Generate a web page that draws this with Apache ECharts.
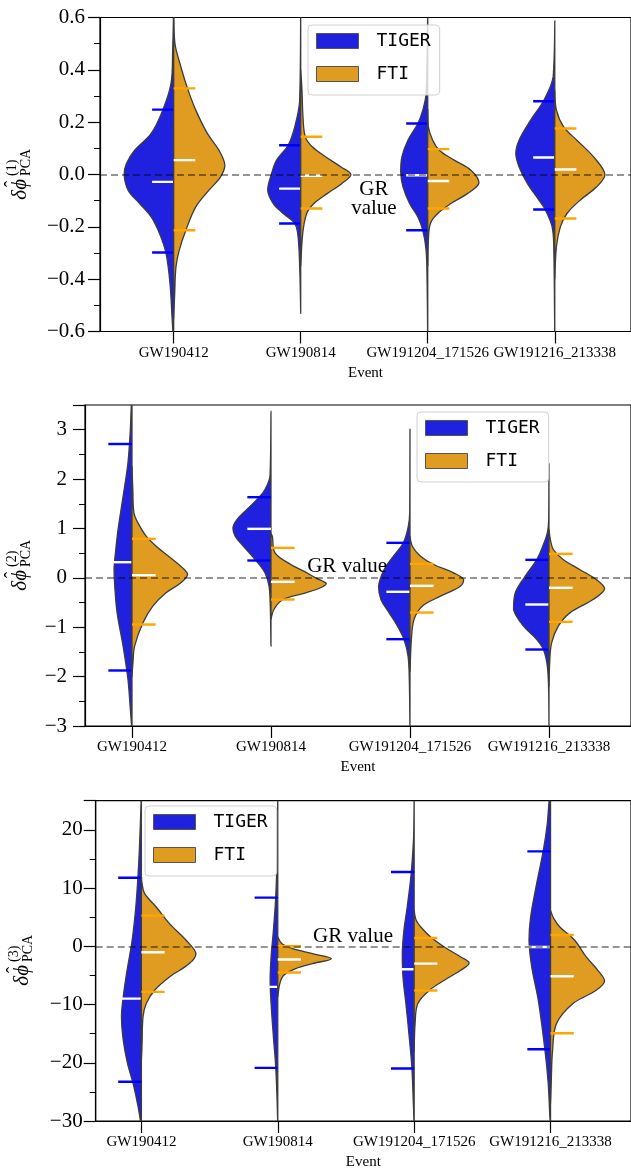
<!DOCTYPE html>
<html>
<head>
<meta charset="utf-8">
<title>PCA deviations - split violins</title>
<script src="https://cdn.jsdelivr.net/npm/echarts@6/dist/echarts.min.js"></script>
<style>
  html, body { margin: 0; padding: 0; background: #fff; }
  #main { width: 631px; height: 1172px; }
</style>
</head>
<body>
<div id="main"></div>
<script>
// events on the x axis
var events = ['GW190412', 'GW190814', 'GW191204_171526', 'GW191216_213338'];
var methods = ['TIGER', 'FTI'];

// y ranges [min, max, interval] per panel
var pca1Y = [-0.6, 0.6, 0.2];
var pca2Y = [-3, 3.5, 1];
var pca3Y = [-30, 25, 10];

// violin half profiles: [value, half width (fraction of event spacing)], top to bottom
var pca1Tiger = [
  [[0.65,0],[0.475,0.008],[0.348,0.021],[0.246,0.086],[0.157,0.177],[0.093,0.307],[0.042,0.372],[0.0,0.39],[-0.06,0.359],[-0.111,0.268],[-0.162,0.177],[-0.225,0.112],[-0.302,0.06],[-0.417,0.029],[-0.544,0.013],[-0.65,0]],
  [[0.65,0],[0.284,0.008],[0.182,0.047],[0.112,0.099],[0.055,0.19],[0.004,0.229],[-0.06,0.26],[-0.111,0.216],[-0.149,0.138],[-0.187,0.047],[-0.238,0.021],[-0.353,0.008],[-0.531,0]],
  [[0.65,0],[0.31,0.013],[0.246,0.039],[0.195,0.078],[0.131,0.156],[0.068,0.203],[0.01,0.213],[-0.047,0.195],[-0.111,0.143],[-0.162,0.078],[-0.213,0.039],[-0.289,0.013],[-0.417,0.005],[-0.65,0]],
  [[0.587,0],[0.373,0.013],[0.284,0.086],[0.208,0.19],[0.131,0.281],[0.08,0.307],[0.029,0.281],[-0.034,0.216],[-0.098,0.125],[-0.136,0.073],[-0.2,0.021],[-0.276,0.008],[-0.65,0]]
];
var pca1Fti = [
  [[0.62,0],[0.5,0.01],[0.411,0.057],[0.329,0.109],[0.246,0.174],[0.157,0.265],[0.093,0.356],[0.036,0.403],[-0.009,0.369],[-0.06,0.278],[-0.124,0.174],[-0.213,0.096],[-0.289,0.044],[-0.353,0.018],[-0.455,0.008],[-0.55,0]],
  [[0.4,0],[0.322,0.01],[0.22,0.018],[0.144,0.036],[0.106,0.091],[0.068,0.195],[0.029,0.317],[0.0,0.395],[-0.034,0.325],[-0.073,0.208],[-0.111,0.104],[-0.149,0.047],[-0.225,0.016],[-0.35,0]],
  [[0.25,0],[0.182,0.005],[0.131,0.039],[0.093,0.091],[0.055,0.208],[0.017,0.338],[-0.032,0.403],[-0.073,0.312],[-0.111,0.182],[-0.149,0.078],[-0.187,0.021],[-0.251,0.005],[-0.35,0]],
  [[0.32,0],[0.246,0.013],[0.182,0.07],[0.131,0.174],[0.068,0.304],[0.0,0.395],[-0.047,0.33],[-0.098,0.2],[-0.149,0.096],[-0.2,0.044],[-0.276,0.013],[-0.4,0]]
];
var pca2Tiger = [
  [[3.6,0],[3.475,0.005],[3.0,0.012],[2.33,0.029],[1.65,0.064],[0.98,0.1],[0.506,0.119],[0.17,0.129],[-0.169,0.124],[-0.709,0.107],[-1.383,0.064],[-2.058,0.029],[-2.733,0.01],[-3.1,0]],
  [[3.37,0],[2.06,0.007],[1.79,0.043],[1.62,0.09],[1.383,0.174],[1.18,0.245],[1.01,0.274],[0.84,0.257],[0.64,0.198],[0.371,0.114],[0.101,0.043],[-0.169,0.014],[-0.574,0.005],[-1.38,0]],
  [[3.017,0],[1.316,0.002],[1.046,0.012],[0.709,0.048],[0.439,0.119],[0.169,0.186],[-0.169,0.226],[-0.439,0.209],[-0.709,0.15],[-0.978,0.09],[-1.248,0.043],[-1.586,0.014],[-2.06,0.005],[-3.1,0]],
  [[2.308,0],[1.18,0.002],[0.911,0.012],[0.641,0.045],[0.371,0.088],[0.034,0.171],[-0.304,0.243],[-0.641,0.255],[-0.978,0.183],[-1.248,0.088],[-1.451,0.04],[-1.788,0.012],[-2.33,0.002],[-3.1,0]]
];
var pca2Fti = [
  [[2.26,0],[1.8,0.006],[1.316,0.014],[1.113,0.043],[0.844,0.102],[0.641,0.174],[0.371,0.293],[0.169,0.376],[0.067,0.4],[-0.101,0.352],[-0.304,0.245],[-0.574,0.15],[-0.911,0.079],[-1.383,0.019],[-1.72,0.007],[-2.0,0]],
  [[0.9,0],[0.84,0.01],[0.506,0.029],[0.27,0.143],[0.135,0.236],[0.0,0.321],[-0.115,0.398],[-0.2,0.357],[-0.304,0.25],[-0.439,0.086],[-0.641,0.021],[-0.84,0]],
  [[0.844,0],[0.641,0.017],[0.439,0.076],[0.27,0.171],[0.101,0.314],[-0.034,0.386],[-0.169,0.362],[-0.371,0.219],[-0.574,0.088],[-0.844,0.029],[-1.248,0.01],[-1.9,0]],
  [[0.978,0],[0.776,0.01],[0.574,0.031],[0.371,0.102],[0.169,0.221],[-0.034,0.34],[-0.223,0.4],[-0.439,0.317],[-0.709,0.15],[-0.978,0.067],[-1.316,0.019],[-1.72,0.005],[-2.2,0]]
];
var pca3Tiger = [
  [[26,0],[25.04,0.002],[18.18,0.012],[12.46,0.024],[6.75,0.041],[1.03,0.068],[-4.69,0.109],[-8.69,0.133],[-12.12,0.146],[-16.12,0.133],[-20.12,0.102],[-23.55,0.061],[-27.56,0.024],[-31,0]],
  [[26,0],[21,0.002],[15.32,0.005],[8.46,0.015],[2.74,0.032],[-1.83,0.049],[-5.83,0.056],[-9.83,0.049],[-15.55,0.032],[-20.7,0.015],[-26.4,0.005],[-31,0]],
  [[26,0],[21.04,0.002],[18.18,0.005],[12.46,0.022],[6.75,0.051],[2.74,0.075],[-1.26,0.087],[-5.26,0.082],[-10.4,0.058],[-16.12,0.034],[-20.7,0.017],[-27.56,0.005],[-31,0]],
  [[26,0],[25.04,0.01],[21.04,0.024],[16.46,0.053],[10.75,0.102],[5.03,0.146],[1.03,0.158],[-3.54,0.138],[-9.26,0.09],[-17.84,0.041],[-23.55,0.017],[-29.27,0.005],[-31,0]]
];
var pca3Fti = [
  [[12,0],[10.75,0.005],[9.03,0.024],[6.75,0.109],[3.89,0.206],[1.03,0.328],[-1.26,0.4],[-2.97,0.352],[-5.26,0.206],[-7.55,0.097],[-9.83,0.036],[-12.12,0.012],[-16.69,0.005],[-20,0]],
  [[1.6,0],[0.46,0.029],[-0.4,0.109],[-1.26,0.255],[-2.12,0.393],[-2.97,0.255],[-3.83,0.131],[-4.97,0.044],[-6.4,0.015],[-8.69,0]],
  [[6.17,0],[4.46,0.015],[3.32,0.049],[1.6,0.121],[-0.11,0.221],[-1.83,0.342],[-2.86,0.403],[-4.12,0.342],[-5.83,0.221],[-7.55,0.112],[-9.83,0.027],[-13.26,0.007],[-18,0]],
  [[6.17,0],[4.75,0.024],[3.32,0.068],[1.03,0.177],[-1.83,0.262],[-4.12,0.347],[-5.95,0.396],[-7.55,0.335],[-9.83,0.165],[-13.26,0.044],[-17.84,0.015],[-23.55,0.005],[-27,0]]
];

// [lower, median, upper] per event
var pca1TigerStats = [[-0.298,-0.028,0.248],[-0.187,-0.054,0.112],[-0.213,-0.003,0.195],[-0.134,0.065,0.28]];
var pca1FtiStats   = [[-0.213,0.055,0.329],[-0.13,-0.005,0.144],[-0.13,-0.025,0.097],[-0.168,0.019,0.176]];
var pca2TigerStats = [[-1.876,0.317,2.71],[0.351,0.992,1.633],[-1.242,-0.283,0.709],[-1.451,-0.54,0.364]];
var pca2FtiStats   = [[-0.945,0.054,0.79],[-0.439,-0.081,0.607],[-0.702,-0.162,0.283],[-0.891,-0.202,0.486]];
var pca3TigerStats = [[-23.27,-8.98,11.78],[-20.87,-6.97,8.35],[-20.98,-3.94,12.75],[-17.67,-0.11,16.29]];
var pca3FtiStats   = [[-7.83,-1.03,5.26],[-4.5,-2.28,0.0],[-7.6,-2.97,1.43],[-14.92,-5.15,1.94]];

// "GR value" annotation: [x, y] in data units, and its text
var grPos = [[1.576, -0.094], [1.548, 0.235], [1.552, 1.6]];
var grText = ['GR\nvalue', 'GR value', 'GR value'];

var TIGER_FILL = '#2020DF', FTI_FILL = '#DF9C20';
var SERIF = '"Liberation Serif", "Times New Roman", serif';

var panels = [
  { tiger: pca1Tiger, fti: pca1Fti, ts: pca1TigerStats, fs: pca1FtiStats, y: pca1Y, dec: 1, showMax: true,
    grid: { left: 100, top: 17.5, width: 535, height: 314 }, xr: [-0.58, 3.6], labMargin: 15,
    legend: { left: 308, top: 25 }, label: [20, 176] },
  { tiger: pca2Tiger, fti: pca2Fti, ts: pca2TigerStats, fs: pca2FtiStats, y: pca2Y, dec: 0, showMax: false,
    grid: { left: 85, top: 405, width: 550, height: 321 }, xr: [-0.338, 3.59], labMargin: 18,
    legend: { left: 417, top: 412 }, label: [20, 567] },
  { tiger: pca3Tiger, fti: pca3Fti, ts: pca3TigerStats, fs: pca3FtiStats, y: pca3Y, dec: 0, showMax: false,
    grid: { left: 95.7, top: 800.7, width: 539.3, height: 320.3 }, xr: [-0.335, 3.59], labMargin: 13,
    legend: { left: 145, top: 806 }, label: [22, 962] }
];

function violinRender(profiles, stats, side, fill, lineColor) {
  return function (params, api) {
    var i = api.value(0);
    var pts = profiles[i].map(function (p) { return api.coord([i + side * p[1], p[0]]); });
    var xs = pts.map(function (p) { return p[0]; });
    var ys = pts.map(function (p) { return p[1]; });
    var box = [[Math.min.apply(null, xs), Math.min.apply(null, ys)], [Math.max.apply(null, xs), Math.max.apply(null, ys)]];
    var kids = [{
      type: 'polygon',
      shape: { points: pts, smooth: 0.35, smoothConstraint: box },
      style: { fill: fill, stroke: '#3c3c3c', lineWidth: 1.3 }
    }];
    var s = stats[i];
    [[s[0], lineColor], [s[1], '#ffffff'], [s[2], lineColor]].forEach(function (q) {
      var a = api.coord([i, q[0]]);
      var b = api.coord([i + side * 0.17, q[0]]);
      kids.push({ type: 'line', shape: { x1: a[0], y1: a[1], x2: b[0], y2: b[1] },
                  style: { stroke: q[1], lineWidth: 2.4 } });
    });
    return { type: 'group', children: kids };
  };
}

function fmt(dec) {
  return function (v) {
    var s = dec ? v.toFixed(dec) : String(Math.round(v));
    if (parseFloat(s) === 0) s = dec ? (0).toFixed(dec) : '0';
    return s.replace('-', '\u2212');
  };
}

var grids = [], xAxes = [], yAxes = [], series = [], legends = [], graphics = [];

panels.forEach(function (p, k) {
  grids.push(Object.assign({ show: true, borderColor: '#000', borderWidth: 1.2, backgroundColor: 'transparent' }, p.grid));
  xAxes.push({
    gridIndex: k, type: 'value', min: p.xr[0], max: p.xr[1],
    axisLine: { show: true, onZero: false, lineStyle: { color: '#000', width: 1.2 } },
    axisTick: { show: true, customValues: [0, 1, 2, 3], length: 12, lineStyle: { color: '#000', width: 1.2 } },
    axisLabel: { customValues: [0, 1, 2, 3], formatter: function (v) { return events[Math.round(v)]; },
                 fontSize: 15, fontFamily: SERIF, color: '#000', margin: 14 },
    splitLine: { show: false },
    name: 'Event', nameLocation: 'middle', nameGap: 34,
    nameTextStyle: { fontSize: 15, fontFamily: SERIF, color: '#000' }
  });
  yAxes.push({
    gridIndex: k, type: 'value', min: p.y[0], max: p.y[1], interval: p.y[2],
    axisLine: { show: true, onZero: false, lineStyle: { color: '#000', width: 1.2 } },
    axisTick: { show: true, length: 12, lineStyle: { color: '#000', width: 1.2 } },
    minorTick: { show: true, splitNumber: 2, length: 6, lineStyle: { color: '#000', width: 1 } },
    splitLine: { show: false },
    axisLabel: { formatter: fmt(p.dec), fontSize: 21, fontFamily: SERIF, color: '#000',
                 margin: p.labMargin, showMaxLabel: p.showMax }
  });
  var idx = events.map(function (e, i) { return [i]; });
  series.push({
    type: 'custom', name: 'TIGER', xAxisIndex: k, yAxisIndex: k, clip: true, z: 2,
    itemStyle: { color: TIGER_FILL }, data: idx,
    renderItem: violinRender(p.tiger, p.ts, -1, TIGER_FILL, '#0000FF')
  });
  series.push({
    type: 'custom', name: 'FTI', xAxisIndex: k, yAxisIndex: k, clip: true, z: 2,
    itemStyle: { color: FTI_FILL }, data: idx,
    renderItem: violinRender(p.fti, p.fs, 1, FTI_FILL, '#FFA500')
  });
  series.push({
    type: 'custom', xAxisIndex: k, yAxisIndex: k, z: 4, silent: true,
    data: [grPos[k]],
    renderItem: function (params, api) {
      var c = api.coord([api.value(0), api.value(1)]);
      return { type: 'text', x: c[0], y: c[1],
               style: { text: grText[k], font: '21px ' + SERIF, fill: '#000',
                        align: 'center', verticalAlign: 'middle', lineHeight: 19 } };
    },
    markLine: {
      silent: true, symbol: ['none', 'none'], label: { show: false }, z: 6,
      lineStyle: { type: [7, 4], color: 'rgba(0,0,0,0.42)', width: 1.8 },
      data: [{ yAxis: 0 }]
    }
  });
  legends.push({
    data: methods, orient: 'vertical', left: p.legend.left, top: p.legend.top,
    icon: 'rect', itemWidth: 42, itemHeight: 15, itemGap: 15,
    padding: [7, 9, 12, 8], backgroundColor: 'rgba(255,255,255,0.8)',
    borderColor: '#d0d0d0', borderWidth: 1, borderRadius: 4,
    itemStyle: { borderColor: '#555', borderWidth: 1 },
    textStyle: { fontFamily: '"DejaVu Sans Mono", monospace', fontSize: 18, color: '#000',
                 lineHeight: 15, padding: [0, 0, 0, 13] },
    selectedMode: false, z: 10
  });
  // rotated y axis title: delta phi-hat, superscript (k), subscript PCA
  graphics.push({
    type: 'group', x: p.label[0], y: p.label[1], rotation: Math.PI / 2,
    children: [
      { type: 'text', x: -3, y: 0, style: { text: '\u03B4\u03D5', font: 'italic 21px ' + SERIF,
        fill: '#000', align: 'right', verticalAlign: 'middle' } },
      { type: 'text', x: -8, y: -8, style: { text: '\u02C6', font: '19px ' + SERIF,
        fill: '#000', align: 'center', verticalAlign: 'middle' } },
      { type: 'text', x: 0, y: -8, style: { text: '(' + (k + 1) + ')', font: '14px ' + SERIF,
        fill: '#000', align: 'left', verticalAlign: 'middle' } },
      { type: 'text', x: 0, y: 6, style: { text: 'PCA', font: '14px ' + SERIF,
        fill: '#000', align: 'left', verticalAlign: 'middle' } }
    ]
  });
});

var chart = echarts.init(document.getElementById('main'), null, { renderer: 'canvas' });
chart.setOption({
  animation: false,
  backgroundColor: '#fff',
  grid: grids,
  xAxis: xAxes,
  yAxis: yAxes,
  legend: legends,
  graphic: graphics,
  series: series
});
</script>
</body>
</html>
